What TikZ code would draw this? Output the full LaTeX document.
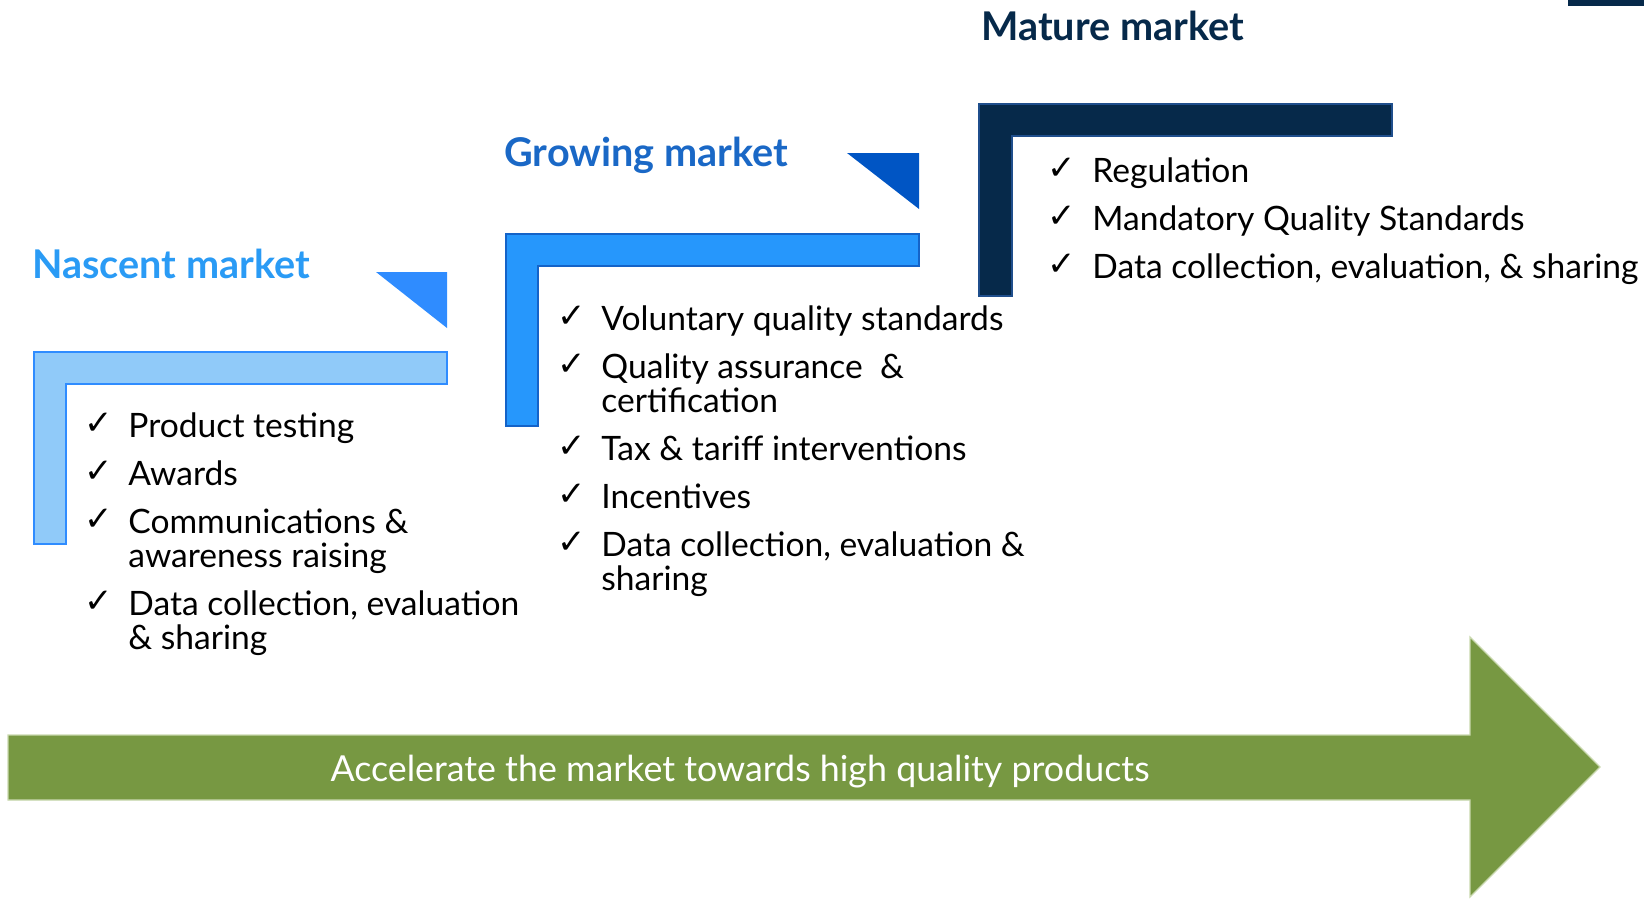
\documentclass[tikz,border=0pt]{standalone}
\usepackage{fontspec}
\setmainfont{Lato}
\newfontfamily\chkfont{DejaVu Sans}
\definecolor{nasTitle}{HTML}{2A9BF5}
\definecolor{nasTri}{HTML}{2F8CFF}
\definecolor{nasFill}{HTML}{90CAF9}
\definecolor{groTitle}{HTML}{1A68C6}
\definecolor{groTri}{HTML}{0055C4}
\definecolor{groFill}{HTML}{2697FC}
\definecolor{groLine}{HTML}{1463C8}
\definecolor{matDark}{HTML}{06294A}
\definecolor{matLine}{HTML}{1F4E8C}
\definecolor{arrFill}{HTML}{779842}
\definecolor{arrLine}{HTML}{C9D8AE}
\begin{document}
\begin{tikzpicture}[x=0.5pt,y=-0.5pt,
  title/.style={anchor=base west, inner sep=0pt, font=\fontsize{19.8}{22}\selectfont\bfseries},
  item/.style={anchor=base west, inner sep=0pt, font=\fontsize{16.8}{19}\selectfont},
  chk/.style={anchor=base west, inner sep=0pt, font=\chkfont\fontsize{17}{19}\selectfont},
  lshape/.style={line width=0.7pt},
]
\useasboundingbox (0,0) rectangle (1644,900);

% top-right bar
\fill[matDark] (1568,0) rectangle (1644,6);

% ---------- Nascent ----------
\node[title, text=nasTitle] (tNas) at (32,278) {Nascent market};
\fill[nasTri] (376,272) -- (447,272) -- (447,328) -- cycle;
\draw[lshape, draw=nasTri, fill=nasFill] (34,352) -- (447,352) -- (447,384) -- (66,384) -- (66,544) -- (34,544) -- cycle;
\node[chk] (c1a) at (84,434) {✓};
\node[item] (i1a) at (128,437) {Product testing};
\node[chk] (c1b) at (84,482) {✓};
\node[item] (i1b) at (128,485) {Awards};
\node[chk] (c1c) at (84,530) {✓};
\node[item] (i1c) at (128,533) {Communications \&};
\node[item] (i1c2) at (128,567) {awareness raising};
\node[chk] (c1d) at (84,612) {✓};
\node[item] (i1d) at (128,615) {Data collection, evaluation};
\node[item] (i1d2) at (128,649) {\& sharing};

% ---------- Growing ----------
\node[title, text=groTitle] (tGro) at (504,166) {Growing market};
\fill[groTri] (847,153) -- (919,153) -- (919,209) -- cycle;
\draw[lshape, draw=groLine, fill=groFill] (506,234) -- (919,234) -- (919,266) -- (538,266) -- (538,426) -- (506,426) -- cycle;
\node[chk] (c2a) at (557,327) {✓};
\node[item] (i2a) at (601,330) {Voluntary quality standards};
\node[chk] (c2b) at (557,375) {✓};
\node[item] (i2b) at (601,378) {Quality assurance\ \ \&};
\node[item] (i2b2) at (601,412) {certification};
\node[chk] (c2c) at (557,457) {✓};
\node[item] (i2c) at (601,460) {Tax \& tariff interventions};
\node[chk] (c2d) at (557,505) {✓};
\node[item] (i2d) at (601,508) {Incentives};
\node[chk] (c2e) at (557,553) {✓};
\node[item] (i2e) at (601,556) {Data collection, evaluation \&};
\node[item] (i2e2) at (601,590) {sharing};

% ---------- Mature ----------
\node[title, text=matDark] (tMat) at (981,40) {Mature market};
\draw[lshape, draw=matLine, fill=matDark] (979,104) -- (1392,104) -- (1392,136) -- (1012,136) -- (1012,296) -- (979,296) -- cycle;
\node[chk] (c3a) at (1047,179) {✓};
\node[item] (i3a) at (1092,182) {Regulation};
\node[chk] (c3b) at (1047,227) {✓};
\node[item] (i3b) at (1092,230) {Mandatory Quality Standards};
\node[chk] (c3c) at (1047,275) {✓};
\node[item] (i3c) at (1092,278) {Data collection, evaluation, \& sharing};

% ---------- Arrow ----------
\draw[line width=0.6pt, draw=arrLine, fill=arrFill] (8,735) -- (1470,735) -- (1470,637) -- (1600,767) -- (1470,897) -- (1470,800) -- (8,800) -- cycle;
\node[inner sep=0pt, text=white, font=\fontsize{17.9}{20}\selectfont] (arrText) at (740,772) {Accelerate the market towards high quality products};
\end{tikzpicture}
\end{document}
